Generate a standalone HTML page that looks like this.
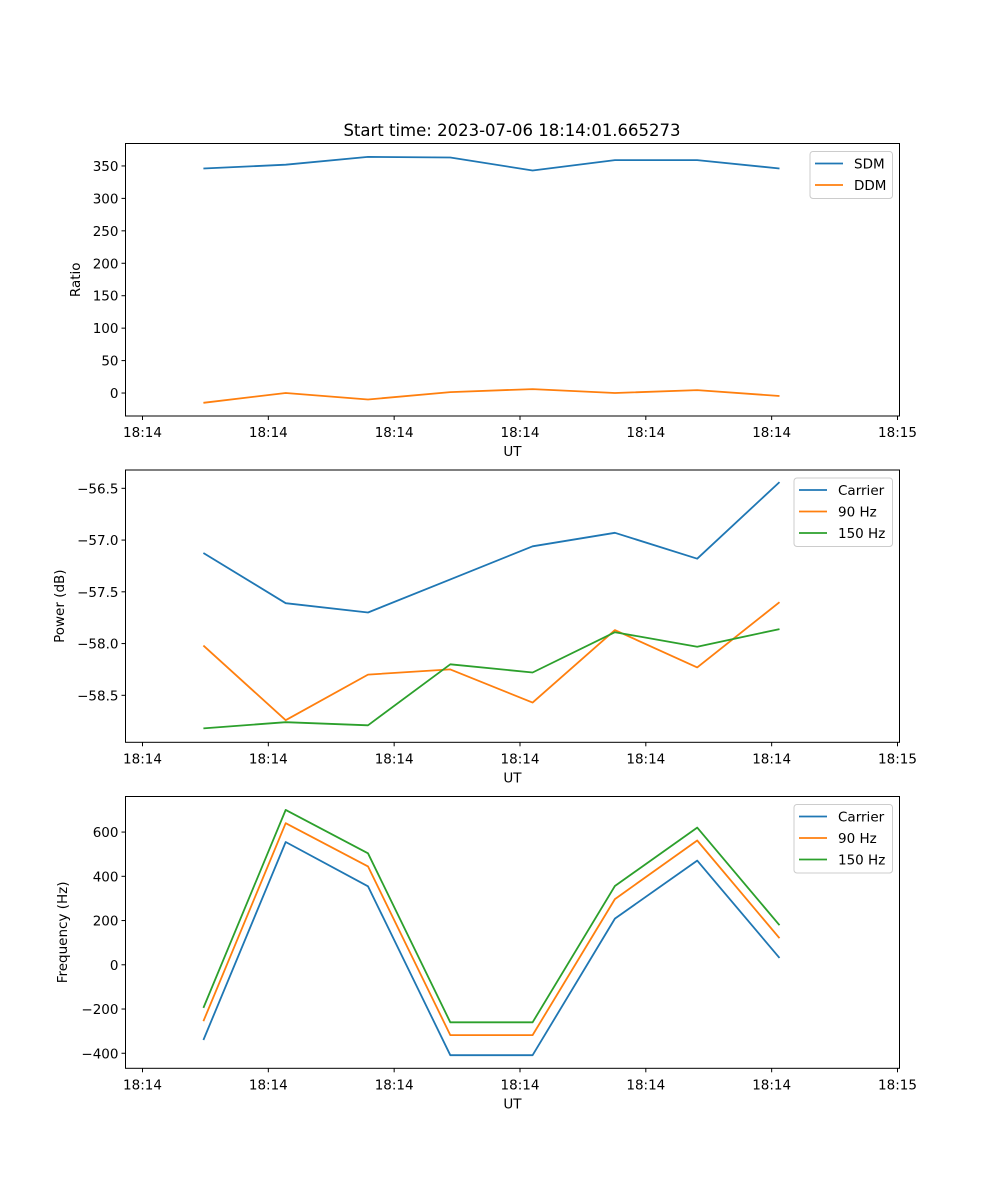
<!DOCTYPE html>
<html><head><meta charset="utf-8"><style>
html,body{margin:0;padding:0;background:#fff}
svg{display:block;font-family:"DejaVu Sans","Liberation Sans",sans-serif}
</style></head><body>
<svg id="fig" width="1000" height="1200" viewBox="0 0 1000 1200"></svg>
<script>
const times=[0.484,1.138,1.792,2.446,3.100,3.754,4.408,5.062];
const xTickVals=[0,1,2,3,4,5,6];
const xTickLabels=["18:14","18:14","18:14","18:14","18:14","18:14","18:15"];
const sdm=[346,352,364,363,343,359,359,346];
const ddm=[-15,0,-10,1.5,6,0,4.5,-4.5];
const powCarrier=[-57.125,-57.61,-57.70,-57.38,-57.06,-56.93,-57.18,-56.44];
const pow90=[-58.02,-58.74,-58.30,-58.25,-58.57,-57.87,-58.23,-57.60];
const pow150=[-58.82,-58.76,-58.79,-58.20,-58.28,-57.89,-58.03,-57.86];
const freqCarrier=[-340,555,355,-409,-409,209,471,31];
const freq90=[-255,640,445,-318,-318,297,562,120];
const freq150=[-195,700,504,-260,-260,356,620,179];
const ratioTicks=[0,50,100,150,200,250,300,350];
const powTicks=[-58.5,-58.0,-57.5,-57.0,-56.5];
const freqTicks=[-400,-200,0,200,400,600];

const NS="http://www.w3.org/2000/svg";
const svg=document.getElementById('fig');
function el(tag,attrs,parent){const e=document.createElementNS(NS,tag);for(const k in attrs)e.setAttribute(k,attrs[k]);(parent||svg).appendChild(e);return e;}
const C={b:"#1f77b4",o:"#ff7f0e",g:"#2ca02c"};
const L=125.5,R=899.5,XMIN=-0.135,XMAX=6.016;
function sx(v){return L+(v-XMIN)/(XMAX-XMIN)*(R-L);}

function panel(name,top,bot,ymin,ymax,yticks,fmt,ylabel,series,legend){
  const g=el('g',{});
  
  
  const sy=v=>bot-(v-ymin)/(ymax-ymin)*(bot-top);
  series.forEach(s=>{
    const p=el('polyline',{points:s.data.map((v,i)=>sx(times[i]).toFixed(1)+","+sy(v).toFixed(1)).join(" "),fill:"none",stroke:s.color,"stroke-width":1.8,"stroke-linejoin":"round"},g);
    
    
  });
  const frame=el('rect',{x:L,y:top,width:R-L,height:bot-top,fill:"none",stroke:"#000","stroke-width":1},g);
  
  
  xTickVals.forEach((v,i)=>{
    const x=sx(v);
    el('line',{x1:x,x2:x,y1:bot,y2:bot+4,stroke:"#000"},g);
    const t=el('text',{x:x,y:bot+21,"font-size":13.5,"text-anchor":"middle",fill:"#000"},g);
    t.textContent=xTickLabels[i];
    
    
  });
  const xl=el('text',{x:(L+R)/2,y:bot+40,"font-size":13.5,"text-anchor":"middle"},g);
  xl.textContent="UT";
  
  
  yticks.forEach(v=>{
    const y=sy(v);
    el('line',{x1:L-4,x2:L,y1:y,y2:y,stroke:"#000"},g);
    const t=el('text',{x:L-7,y:y+5,"font-size":13.5,"text-anchor":"end"},g);
    t.textContent=fmt(v);
    
    
  });
  const ylx=ylabel.x;
  const yl=el('text',{x:ylx,y:(top+bot)/2,"font-size":13.5,"text-anchor":"middle",transform:`rotate(-90 ${ylx} ${(top+bot)/2})`},g);
  yl.textContent=ylabel.text;
  
  
  const lg=el('g',{},g);
  
  
  el('rect',{x:legend.x,y:top+8,width:R-7-legend.x,height:series.length*21.5+4,rx:3,fill:"#fff",stroke:"#ccc","fill-opacity":0.8},lg);
  series.forEach((s,i)=>{
    const yy=top+8+12+i*21.5;
    el('line',{x1:legend.x+5,x2:legend.x+33,y1:yy,y2:yy,stroke:s.color,"stroke-width":1.8},lg);
    const t=el('text',{x:legend.x+44,y:yy+5,"font-size":13.5},lg);
    t.textContent=s.label;
    
    
  });
}
const title=el('text',{x:512,y:136,"font-size":16.5,"text-anchor":"middle"});
title.textContent="Start time: 2023-07-06 18:14:01.665273";



panel('ratio-panel',143.5,416,-35.4,384.6,ratioTicks,v=>v<0?"−"+(-v):String(v),{x:80,text:"Ratio"},
 [{name:'sdm-line',data:sdm,color:C.b,label:"SDM"},{name:'ddm-line',data:ddm,color:C.o,label:"DDM"}],{x:810});
panel('power-panel',470,742.3,-58.954,-56.323,powTicks,v=>"−"+(-v).toFixed(1),{x:64,text:"Power (dB)"},
 [{name:'power-carrier-line',data:powCarrier,color:C.b,label:"Carrier"},{name:'power-90hz-line',data:pow90,color:C.o,label:"90 Hz"},{name:'power-150hz-line',data:pow150,color:C.g,label:"150 Hz"}],{x:794});
panel('frequency-panel',796.5,1068.3,-468,760.8,freqTicks,v=>v<0?"−"+(-v):String(v),{x:67,text:"Frequency (Hz)"},
 [{name:'freq-carrier-line',data:freqCarrier,color:C.b,label:"Carrier"},{name:'freq-90hz-line',data:freq90,color:C.o,label:"90 Hz"},{name:'freq-150hz-line',data:freq150,color:C.g,label:"150 Hz"}],{x:794});
</script>
</body></html>
